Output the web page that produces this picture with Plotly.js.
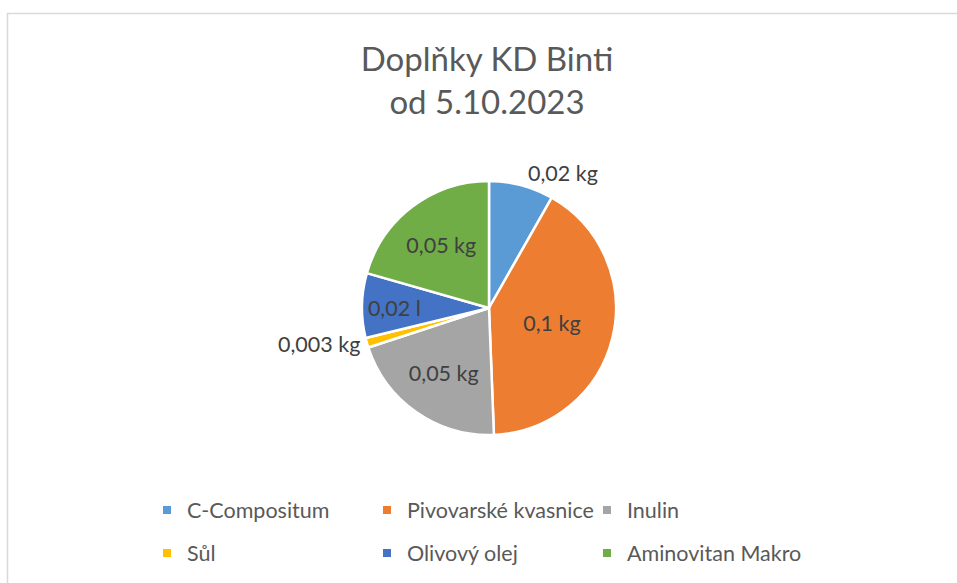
<!DOCTYPE html>
<html>
<head>
<meta charset="utf-8">
<script src="https://cdn.plot.ly/plotly-3.0.1.min.js"></script>
<style>html,body{margin:0;padding:0;background:#fff;}#chart{width:957px;height:583px;}</style>
</head>
<body>
<div id="chart"></div>
<script>
const labels = ["C-Compositum", "Pivovarské kvasnice", "Inulin", "Sůl", "Olivový olej", "Aminovitan Makro"];
const values = [0.02, 0.1, 0.05, 0.003, 0.02, 0.05];
const units = ["kg", "kg", "kg", "kg", "l", "kg"];
const colors = ["#5B9BD5", "#ED7D31", "#A5A5A5", "#FFC000", "#4472C4", "#70AD47"];
const textPositions = ["outside", "inside", "inside", "outside", "inside", "inside"];

const W = 957, H = 583;
const FONT = "Lato, 'Open Sans', sans-serif";
const sliceText = values.map((v, i) => String(v).replace('.', ',') + ' ' + units[i]);

const cx = 489, cy = 308, r = 127;
const traces = [{
  type: 'pie',
  labels: labels,
  values: values,
  text: sliceText,
  textinfo: 'text',
  textposition: textPositions,
  insidetextorientation: 'horizontal',
  sort: false,
  direction: 'clockwise',
  rotation: 0,
  marker: {colors: colors, line: {color: '#ffffff', width: 2.5}},
  textfont: {family: FONT, size: 21.5, color: '#404040'},
  insidetextfont: {family: FONT, size: 21.5, color: '#404040'},
  outsidetextfont: {family: FONT, size: 21.5, color: '#404040'},
  domain: {x: [(cx - r) / W, (cx + r) / W], y: [1 - (cy + r) / H, 1 - (cy - r) / H]},
  showlegend: false,
  hoverinfo: 'label+text'
}];
// legend entries (two rows, as in the reference)
labels.forEach((lab, i) => {
  traces.push({
    type: 'scatter', x: [null], y: [null], mode: 'markers', name: lab,
    marker: {symbol: 'square', size: 8, color: colors[i]},
    legend: i < 3 ? 'legend' : 'legend2', showlegend: true, hoverinfo: 'skip'
  });
});

const legendCommon = {
  orientation: 'h', xanchor: 'left', yanchor: 'middle',
  font: {family: FONT, size: 21.5, color: '#595959'},
  entrywidth: 175, entrywidthmode: 'pixels',
  bgcolor: 'rgba(0,0,0,0)', itemclick: false, itemdoubleclick: false
};

const layout = {
  width: W, height: H,
  margin: {l: 0, r: 0, t: 0, b: 0},
  paper_bgcolor: '#ffffff', plot_bgcolor: '#ffffff',
  title: {
    text: 'Doplňky KD Binti<br>od 5.10.2023',
    font: {family: FONT, size: 33, color: '#595959'},
    x: 487 / W, xanchor: 'center', y: 1 - 71 / H, yanchor: 'top'
  },
  xaxis: {visible: false}, yaxis: {visible: false},
  legend: Object.assign({}, legendCommon, {x: 147 / W, y: 1 - 510 / H}),
  legend2: Object.assign({}, legendCommon, {x: 147 / W, y: 1 - 553 / H}),
  shapes: [{
    type: 'rect', xref: 'paper', yref: 'paper',
    x0: 7.5 / W, x1: 1.01, y0: -0.01, y1: 1 - 13.5 / H,
    line: {color: '#D9D9D9', width: 1.5}, fillcolor: 'rgba(0,0,0,0)', layer: 'below'
  }],
  showlegend: true
};

Plotly.newPlot('chart', traces, layout, {displayModeBar: false, staticPlot: false});
</script>
</body>
</html>
